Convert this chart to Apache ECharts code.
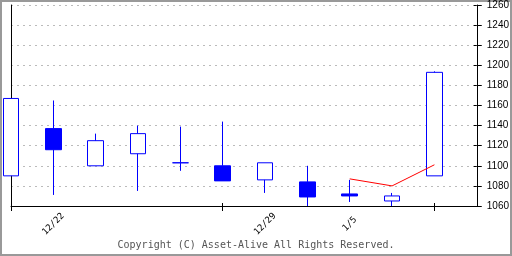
<!DOCTYPE html>
<html>
<head>
<meta charset="utf-8">
<script src="https://cdn.jsdelivr.net/npm/echarts@6/dist/echarts.min.js"></script>
<style>
html,body{margin:0;padding:0;background:#fff;}
#c{width:512px;height:256px;}
</style>
</head>
<body>
<div id="c"></div>
<script>
// categories (trading days); last entry is an empty slot at the right edge
const categories = ['12/19','12/22','12/23','12/24','12/25','12/26','12/29','12/30','1/5','1/6','1/7',''];
// [open, close, low, high]
const opens  = [1090, 1137, 1100, 1112, 1103, 1100, 1086, 1084, 1072, 1065, 1090];
const closes = [1167, 1116, 1125, 1132, 1103, 1085, 1103, 1069, 1070, 1070, 1193];
const lows   = [1090, 1071, 1100, 1075, 1095, 1085, 1073, 1060, 1064, 1060, 1090];
const highs  = [1167, 1165, 1132, 1140, 1139, 1144, 1103, 1100, 1086, 1073, 1194];
const movingAvg = [null, null, null, null, null, null, null, null, 1087, 1080, 1101, null];
const xLabels = ['12/22', '12/29', '1/5'];
const xTickIdx = [0, 5, 10];
const yTicks = [1060, 1080, 1100, 1120, 1140, 1160, 1180, 1200, 1220, 1240, 1260];

const yMin = yTicks[0], yMax = yTicks[yTicks.length - 1], yStep = yTicks[1] - yTicks[0];
const candleData = opens.map((o, i) => [o, closes[i], lows[i], highs[i]]);

const chart = echarts.init(document.getElementById('c'), null, {renderer: 'canvas'});
const yBase = {type: 'value', min: yMin, max: yMax, interval: yStep, position: 'right'};
chart.setOption({
  animation: false,
  backgroundColor: '#fff',
  grid: {left: 11, right: 34, top: 5, bottom: 50, containLabel: false},
  xAxis: [
    {
      type: 'category', data: categories, boundaryGap: false, position: 'bottom',
      axisLine: {show: true, lineStyle: {color: '#000', width: 1}},
      axisTick: {show: true, inside: false, length: 5, lineStyle: {color: '#000'},
                 interval: (i) => xTickIdx.indexOf(i) >= 0},
      axisLabel: {
        show: true, rotate: 45, align: 'center', verticalAlign: 'middle', margin: 18,
        interval: (i, v) => xLabels.indexOf(v) >= 0,
        fontFamily: 'DejaVu Sans Mono', fontSize: 9, color: '#000'
      },
      splitLine: {show: false}
    },
    {
      type: 'category', data: categories, boundaryGap: false, position: 'bottom',
      axisLine: {show: false},
      axisTick: {show: true, inside: true, length: 3, lineStyle: {color: '#000'},
                 interval: (i) => xTickIdx.indexOf(i) >= 0},
      axisLabel: {show: false},
      splitLine: {show: false}
    }
  ],
  yAxis: [
    Object.assign({}, yBase, {
      axisLine: {show: true, lineStyle: {color: '#000'}},
      axisTick: {show: true, inside: false, length: 5, lineStyle: {color: '#000'}},
      axisLabel: {show: true, margin: 10, fontFamily: '"Liberation Sans Narrow", "Liberation Sans", sans-serif',
                  fontSize: 10, color: '#000', formatter: (v) => String(v)},
      splitLine: {show: true, lineStyle: {color: '#bbb', type: [2, 4], width: 1}}
    }),
    Object.assign({}, yBase, {
      axisLine: {show: false},
      axisTick: {show: true, inside: true, length: 3, lineStyle: {color: '#000'}},
      axisLabel: {show: false},
      splitLine: {show: false}
    }),
    Object.assign({}, yBase, {
      position: 'left',
      axisLine: {show: true, lineStyle: {color: '#000'}},
      axisTick: {show: false},
      axisLabel: {show: false},
      splitLine: {show: false}
    })
  ],
  series: [
    {
      type: 'candlestick', xAxisIndex: 0, yAxisIndex: 0, data: candleData, barWidth: 16, clip: false,
      itemStyle: {color: '#fff', color0: '#0000ff', borderColor: '#0000ff', borderColor0: '#0000ff',
                  borderColorDoji: '#0000ff', borderWidth: 1},
      z: 3
    },
    {
      type: 'line', xAxisIndex: 0, yAxisIndex: 0, data: movingAvg, symbol: 'none', connectNulls: false,
      lineStyle: {color: '#ff0000', width: 1}, z: 4
    }
  ],
  graphic: [
    {type: 'rect', shape: {x: 1, y: 1, width: 510, height: 254}, style: {fill: null, stroke: '#999', lineWidth: 2}, silent: true},
    {type: 'text', left: 'center', top: 240, style: {text: 'Copyright (C) Asset-Alive All Rights Reserved.',
      fontFamily: 'DejaVu Sans Mono', fontSize: 10, fill: '#555'}}
  ]
});
</script>
</body>
</html>
